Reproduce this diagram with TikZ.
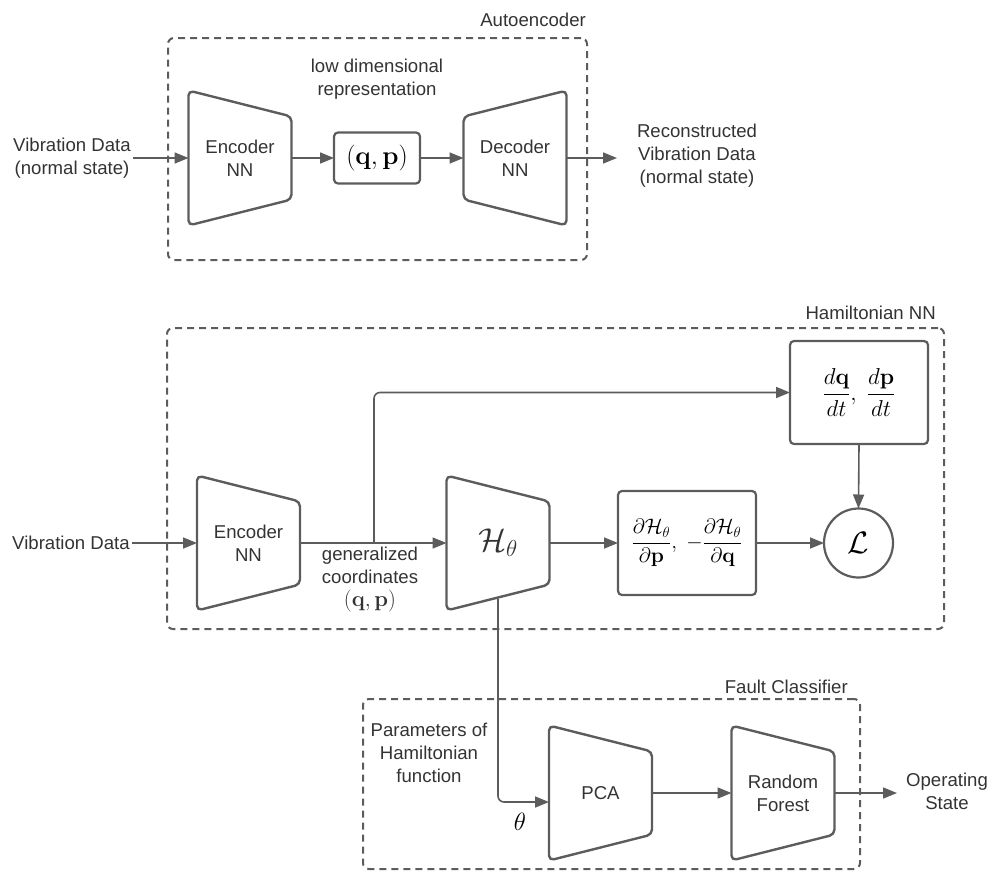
\RequirePackage{fix-cm}
\documentclass[tikz,border=0pt]{standalone}
\usepackage[no-math]{fontspec}
\setmainfont{Liberation Sans}
\usetikzlibrary{arrows.meta,calc}
\definecolor{lc}{HTML}{5C5C5C}
\definecolor{tc}{HTML}{333333}
\newcommand{\trapwl}[1]{\draw[trapline] (#1.north west) -- ([yshift=-26pt]#1.north east) -- ([yshift=26pt]#1.south east) -- (#1.south west) -- cycle;}
\newcommand{\trapwr}[1]{\draw[trapline] ([yshift=-26pt]#1.north west) -- (#1.north east) -- (#1.south east) -- ([yshift=26pt]#1.south west) -- cycle;}
\newcommand{\dfr}[2]{{\displaystyle\frac{#1}{#2}}}
\begin{document}
\begin{tikzpicture}[x=1pt,y=-1pt,
  txt/.style={font=\fontsize{18.6pt}{23pt}\selectfont, text=tc, align=center, inner sep=2pt},
  trap/.style={minimum width=103pt, minimum height=135pt, inner sep=0pt, outer sep=0pt, font=\fontsize{18.6pt}{23pt}\selectfont, text=tc, align=center},
  bx/.style={draw=lc, line width=2.2pt, rounded corners=4pt, inner sep=0pt, outer sep=0pt},
  arr/.style={draw=lc, line width=1.6pt, -{Triangle[length=14pt,width=11pt]}},
  dbox/.style={draw=lc, line width=2pt, dash pattern=on 7pt off 5pt, rounded corners=6pt, inner sep=0pt},
  trapline/.style={draw=lc, line width=2.4pt, rounded corners=5pt, line join=round}]
\useasboundingbox (0,0) rectangle (990,873);

% ---------- Autoencoder ----------
\node[dbox, minimum width=419pt, minimum height=222pt] (aebox) at (377.5,149) {};
\node[txt, anchor=east] (aelab) at (588,20) {Autoencoder};
\node[txt] (vin1) at (72,158) {Vibration Data\\(normal state)};
\node[trap] (aeenc) at (240,158) {Encoder\\NN};
\node[bx, minimum width=86pt, minimum height=51pt, font=\fontsize{26pt}{28pt}\selectfont] (qp) at (377,158) {$(\mathbf{q},\mathbf{p})$};
\node[txt] (ldr) at (377,79) {low dimensional\\representation};
\node[trap] (aedec) at (515,158) {Decoder\\NN};
\node[txt] (rec) at (697,156) {Reconstructed\\Vibration Data\\(normal state)};
\coordinate (recin) at (617,158);
\trapwl{aeenc}
\trapwr{aedec}
\draw[arr] (vin1.east) -- (aeenc.west);
\draw[arr] (aeenc.east) -- (qp.west);
\draw[arr] (qp.east) -- (aedec.west);
\draw[arr] (aedec.east) -- (recin);

% ---------- Hamiltonian NN ----------
\node[dbox, minimum width=777pt, minimum height=301pt] (hbox) at (555.5,478.5) {};
\node[txt, anchor=east] (hlab) at (938,313) {Hamiltonian NN};
\node[txt] (vin2) at (71,543) {Vibration Data};
\node[trap] (henc) at (248.5,543) {Encoder\\NN};
\node[trap, font=\fontsize{33pt}{36pt}\selectfont] (ham) at (498,543) {$\mathcal{H}_\theta$};
\node[txt] (gc) at (370,579) {generalized\\coordinates\\{\fontsize{22pt}{23pt}\selectfont$(\mathbf{q},\mathbf{p})$}};
\node[bx, minimum width=138pt, minimum height=104pt, font=\fontsize{21pt}{24pt}\selectfont] (dh) at (687,543)
  {$\dfr{\partial\mathcal{H}_\theta}{\partial\mathbf{p}},\;-\dfr{\partial\mathcal{H}_\theta}{\partial\mathbf{q}}$};
\node[bx, minimum width=138pt, minimum height=103pt, font=\fontsize{23pt}{26pt}\selectfont] (dq) at (859,392.5)
  {$\dfr{d\mathbf{q}}{dt},\ \dfr{d\mathbf{p}}{dt}$};
\node[circle, draw=lc, line width=2.2pt, minimum size=69pt, inner sep=0pt, outer sep=0pt, font=\fontsize{31pt}{34pt}\selectfont] (L) at (858.5,543) {$\mathcal{L}$};
\coordinate (br) at (374,543);
\trapwl{henc}
\trapwl{ham}
\draw[arr] (vin2.east) -- (henc.west);
\draw[arr] (henc.east) -- (ham.west);
\draw[arr, rounded corners=6pt] (br) |- (dq.west);
\draw[arr] (ham.east) -- (dh.west);
\draw[arr] (dh.east) -- (L.west);
\draw[arr] (dq.south) -- (L.north);

% ---------- Fault Classifier ----------
\node[dbox, minimum width=497pt, minimum height=170pt] (fbox) at (611.5,784) {};
\node[txt, anchor=east] (flab) at (850,687) {Fault Classifier};
\node[txt] (par) at (429,753) {Parameters of\\Hamiltonian\\function};
\node[font=\fontsize{25pt}{26pt}\selectfont, inner sep=0pt] (th) at (520,822) {$\theta$};
\node[trap] (pca) at (600.5,793) {PCA};
\node[trap] (rf) at (783,793) {Random\\Forest};
\node[txt] (op) at (947,791) {Operating\\State};
\coordinate (opin) at (897,793);
\trapwl{pca}
\trapwl{rf}
\draw[arr, rounded corners=6pt] ([yshift=12pt]ham.south) |- ([yshift=-9pt]pca.west);
\draw[arr] (pca.east) -- (rf.west);
\draw[arr] (rf.east) -- (opin);
\end{tikzpicture}
\end{document}
